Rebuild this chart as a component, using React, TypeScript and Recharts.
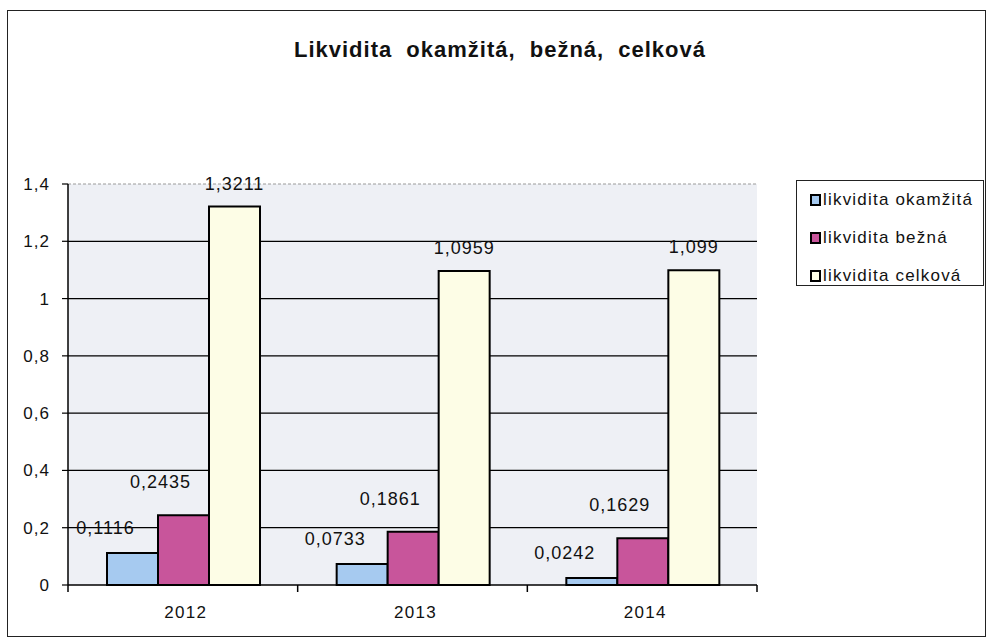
import React from "react";
import { BarChart, Bar, XAxis, YAxis, CartesianGrid, ReferenceLine } from "recharts";

const years = ["2012", "2013", "2014"];
const okamzita = [0.1116, 0.0733, 0.0242];
const bezna = [0.2435, 0.1861, 0.1629];
const celkova = [1.3211, 1.0959, 1.099];
const yTicks = [0, 0.2, 0.4, 0.6, 0.8, 1, 1.2, 1.4];

const series = [
  { key: "okamzita", name: "likvidita okamžitá", values: okamzita, color: "#a6caf0", dx: -27, dy: -25 },
  { key: "bezna", name: "likvidita bežná", values: bezna, color: "#c8559b", dx: -23, dy: -33 },
  { key: "celkova", name: "likvidita celková", values: celkova, color: "#fdfde6", dx: 0, dy: -23 },
];

const data = years.map((year, i) => {
  const row: any = { year };
  series.forEach((s) => (row[s.key] = s.values[i]));
  return row;
});

const FONT = "'Liberation Sans', Arial, sans-serif";
const PLOT_W = 689;

const comma = (v: any) => String(v).replace(".", ",");

// excel style labels sit a bit left of the bar top
const makeLabel = (dx: number, dy: number) => (props: any) => {
  const { x, y, width, value } = props;
  return (
    <text
      x={x + width / 2 + dx}
      y={y + dy}
      textAnchor="middle"
      dominantBaseline="central"
      fontFamily={FONT}
      fontSize={18}
      letterSpacing={1}
      fill="#111"
    >
      {comma(value)}
    </text>
  );
};

const YearTick = (props: any) => {
  const { x, y, payload, index } = props;
  const band = PLOT_W / years.length;
  return (
    <g>
      <line x1={x - band / 2} x2={x - band / 2} y1={y} y2={y + 7} stroke="#000" strokeWidth={1.5} />
      {index === years.length - 1 && (
        <line x1={x + band / 2} x2={x + band / 2} y1={y} y2={y + 7} stroke="#000" strokeWidth={1.5} />
      )}
      <text
        x={x + 3}
        y={y + 27}
        textAnchor="middle"
        dominantBaseline="central"
        fontFamily={FONT}
        fontSize={17}
        letterSpacing={1.3}
        fill="#111"
      >
        {payload.value}
      </text>
    </g>
  );
};

export default function App() {
  return (
    <div style={{ position: "absolute", left: 0, top: 0, width: 990, height: 641, background: "#fff", fontFamily: FONT }}>
      <div
        style={{
          position: "absolute",
          left: 7,
          top: 10,
          width: 977,
          height: 625,
          border: "1px solid #222",
        }}
      />
      <div
        style={{
          position: "absolute",
          left: 0,
          top: 37,
          width: 1000,
          textAlign: "center",
          fontSize: 22,
          fontWeight: "bold",
          letterSpacing: 1,
          wordSpacing: 7,
          color: "#111",
        }}
      >
        Likvidita okamžitá, bežná, celková
      </div>

      <div style={{ position: "absolute", left: 0, top: 0 }}>
        <BarChart
          width={990}
          height={641}
          data={data}
          margin={{ top: 184, right: 233, bottom: 26, left: 8 }}
          barCategoryGap={39}
          barGap={0}
        >
          <CartesianGrid
            vertical={false}
            horizontalValues={[0.2, 0.4, 0.6, 0.8, 1, 1.2]}
            stroke="#000"
            strokeWidth={1.3}
            fill="#eef0f5"
            fillOpacity={1}
          />
          <ReferenceLine y={1.4} stroke="#9a9a9a" strokeDasharray="3 2" />
          <XAxis
            dataKey="year"
            height={30}
            tickLine={false}
            tickSize={0}
            tickMargin={0}
            axisLine={{ stroke: "#000", strokeWidth: 1.5 }}
            tick={<YearTick />}
            interval={0}
          />
          <YAxis
            width={60}
            domain={[0, 1.4]}
            ticks={yTicks}
            tickFormatter={comma}
            tickSize={6}
            tickMargin={12}
            axisLine={{ stroke: "#000", strokeWidth: 1.5 }}
            tickLine={{ stroke: "#000", strokeWidth: 1.2 }}
            tick={{ fill: "#111", fontSize: 17, fontFamily: FONT, letterSpacing: 1 }}
          />
          <YAxis
            yAxisId="r"
            orientation="right"
            width={0}
            domain={[0, 1.4]}
            tick={false}
            tickLine={false}
            axisLine={{ stroke: "#9a9a9a", strokeDasharray: "3 2" }}
          />
          {series.map((s) => (
            <Bar
              key={s.key}
              dataKey={s.key}
              name={s.name}
              fill={s.color}
              stroke="#000"
              strokeWidth={2}
              isAnimationActive={false}
              label={makeLabel(s.dx, s.dy)}
            />
          ))}
        </BarChart>
      </div>

      <div
        style={{
          position: "absolute",
          left: 796,
          top: 180,
          width: 186,
          height: 104,
          border: "1px solid #222",
          background: "#fff",
        }}
      >
        {series.map((s, i) => (
          <div
            key={s.key}
            style={{
              position: "absolute",
              left: 13,
              top: 8 + i * 38,
              height: 22,
              display: "flex",
              alignItems: "center",
              fontSize: 17,
              letterSpacing: 1.2,
              color: "#111",
              whiteSpace: "nowrap",
            }}
          >
            <span
              style={{
                display: "inline-block",
                width: 7,
                height: 8,
                background: s.color,
                border: "2px solid #000",
                marginRight: 2,
              }}
            />
            {s.name}
          </div>
        ))}
      </div>
    </div>
  );
}
